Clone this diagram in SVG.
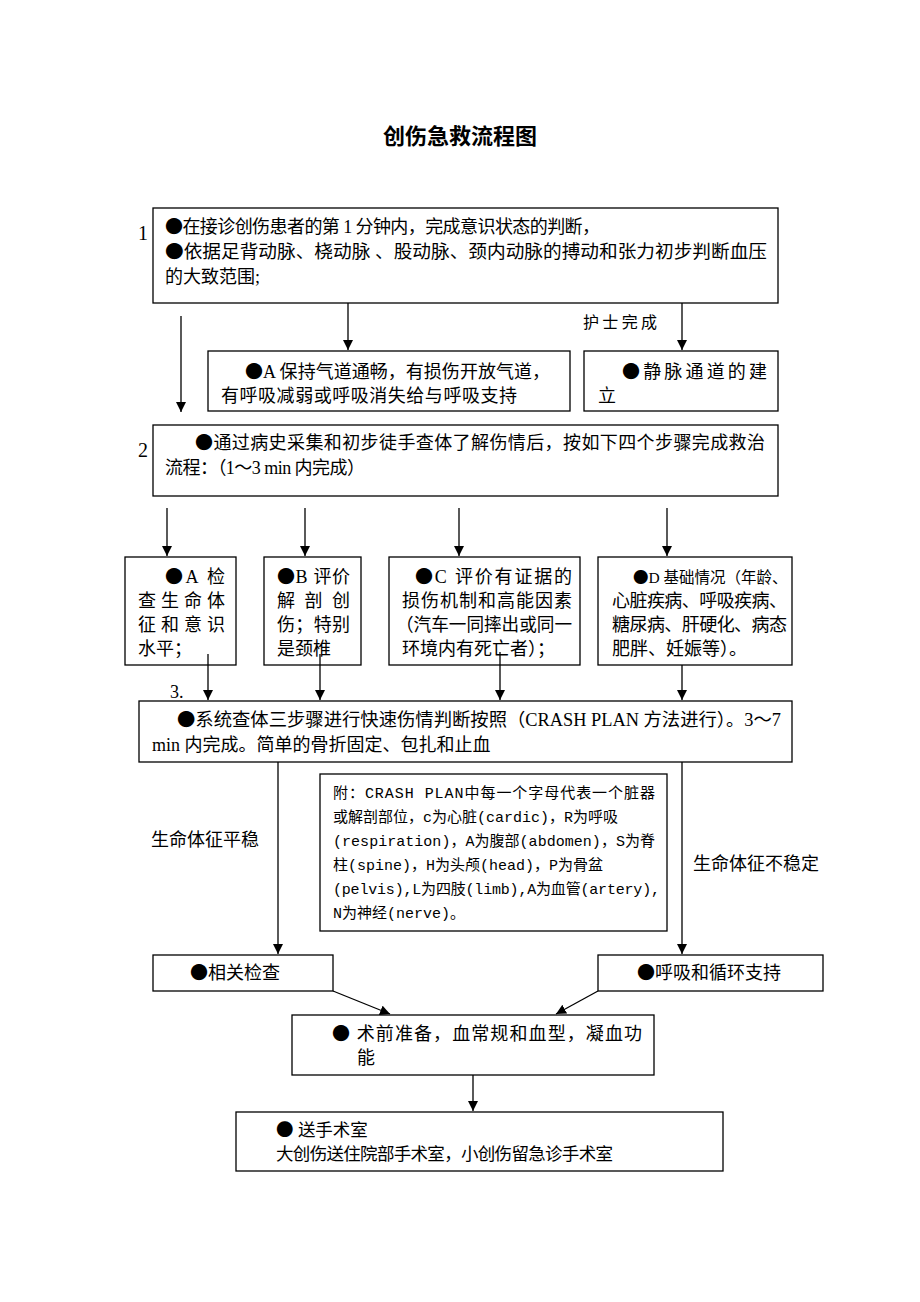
<svg xmlns="http://www.w3.org/2000/svg" width="920" height="1302" viewBox="0 0 920 1302">
<defs>
<marker id="ah" markerUnits="userSpaceOnUse" markerWidth="10" markerHeight="12" refX="10" refY="5" orient="auto">
<path d="M0,0 L10,5 L0,10 Z" fill="#000"/>
</marker>
<style>
.box{fill:#fff;stroke:#000;stroke-width:1.3}
.t{font-family:"Liberation Serif","Noto Sans CJK SC",serif;font-size:18px;fill:#000}
.m{font-family:"Liberation Mono","Noto Sans CJK SC",monospace;font-size:15px;fill:#000}
.n{font-family:"Liberation Serif","Noto Sans CJK SC",serif;font-size:20px;fill:#000}
.b{font-family:"Noto Sans CJK SC",sans-serif}
.c line{stroke:#000;stroke-width:1.3}
.a{marker-end:url(#ah)}
</style>
</defs>
<rect width="920" height="1302" fill="#fff"/>
<text x="460" y="144" text-anchor="middle" style="font-family:'Noto Sans CJK SC',sans-serif;font-size:22px;font-weight:bold">创伤急救流程图</text>

<g id="n1">
<rect class="box" x="153" y="208" width="625" height="95"/>
<text class="n" x="138" y="240">1</text>
<text class="t" x="165" y="233" textLength="435"><tspan class="b">●</tspan>在接诊创伤患者的第 1 分钟内，完成意识状态的判断，</text>
<text class="t" x="165" y="258" textLength="602" lengthAdjust="spacingAndGlyphs"><tspan class="b">●</tspan>依据足背动脉、桡动脉 、股动脉、颈内动脉的搏动和张力初步判断血压</text>
<text class="t" x="165" y="283">的大致范围;</text>
</g>
<text class="t" x="583" y="328" textLength="74" style="font-size:16px">护士完成</text>

<g id="nA1">
<rect class="box" x="208" y="351" width="362" height="60"/>
<text class="t" x="245" y="378" textLength="305"><tspan class="b">●</tspan>A 保持气道通畅，有损伤开放气道，</text>
<text class="t" x="221" y="402" textLength="296">有呼吸减弱或呼吸消失给与呼吸支持</text>
</g>
<g id="nIV">
<rect class="box" x="584" y="351" width="194" height="60"/>
<text class="t" x="622" y="378" textLength="145"><tspan class="b">●</tspan>静脉通道的建</text>
<text class="t" x="598" y="402">立</text>
</g>

<g id="n2">
<rect class="box" x="153" y="425" width="625" height="71"/>
<text class="n" x="138" y="457">2</text>
<text class="t" x="195" y="449" textLength="570"><tspan class="b">●</tspan>通过病史采集和初步徒手查体了解伤情后，按如下四个步骤完成救治</text>
<text class="t" x="165" y="474" textLength="200">流程：（1～3 min 内完成）</text>
</g>

<g id="nA">
<rect class="box" x="125" y="557" width="111" height="108"/>
<text class="t" x="165" y="583" textLength="60"><tspan class="b">●</tspan>A 检</text>
<text class="t" x="138" y="607" textLength="87">查生命体</text>
<text class="t" x="138" y="631" textLength="87">征和意识</text>
<text class="t" x="138" y="655">水平；</text>
</g>
<g id="nB">
<rect class="box" x="264" y="557" width="97" height="108"/>
<text class="t" x="277" y="583" textLength="73"><tspan class="b">●</tspan>B 评价</text>
<text class="t" x="277" y="607" textLength="73">解 剖 创</text>
<text class="t" x="277" y="631" textLength="73">伤；特别</text>
<text class="t" x="277" y="655">是颈椎</text>
</g>
<g id="nC">
<rect class="box" x="389" y="557" width="191" height="108"/>
<text class="t" x="415" y="583" textLength="157"><tspan class="b">●</tspan>C 评价有证据的</text>
<text class="t" x="402" y="607" textLength="170">损伤机制和高能因素</text>
<text class="t" x="396" y="631" textLength="176" lengthAdjust="spacingAndGlyphs">（汽车一同摔出或同一</text>
<text class="t" x="402" y="655">环境内有死亡者）；</text>
</g>
<g id="nD">
<rect class="box" x="598" y="557" width="194" height="108"/>
<text class="t" x="633" y="583" style="font-size:15.5px"><tspan class="b">●</tspan>D 基础情况（年龄、</text>
<text class="t" x="612" y="607" textLength="175">心脏疾病、呼吸疾病、</text>
<text class="t" x="612" y="631" textLength="175">糖尿病、肝硬化、病态</text>
<text class="t" x="612" y="655">肥胖、妊娠等）。</text>
</g>

<text class="n" x="170" y="698" style="font-size:18px">3.</text>
<g id="n3">
<rect class="box" x="139" y="701" width="653" height="61"/>
<text class="t" x="177" y="726" textLength="604" lengthAdjust="spacingAndGlyphs"><tspan class="b">●</tspan>系统查体三步骤进行快速伤情判断按照（CRASH PLAN 方法进行）。3～7</text>
<text class="t" x="152" y="751">min 内完成。简单的骨折固定、包扎和止血</text>
</g>

<g id="nNote">
<rect class="box" x="320" y="774" width="347" height="157"/>
<text class="m" x="333" y="798" textLength="322">附：CRASH PLAN中每一个字母代表一个脏器</text>
<text class="m" x="333" y="822">或解剖部位，c为心脏(cardic)，R为呼吸</text>
<text class="m" x="333" y="846" textLength="322">(respiration)，A为腹部(abdomen)，S为脊</text>
<text class="m" x="333" y="870">柱(spine)，H为头颅(head)，P为骨盆</text>
<text class="m" x="333" y="894" textLength="327">(pelvis),L为四肢(limb),A为血管(artery),</text>
<text class="m" x="333" y="918">N为神经(nerve)。</text>
</g>

<text class="t" x="151" y="846">生命体征平稳</text>
<text class="t" x="693" y="870">生命体征不稳定</text>

<g id="nCheck">
<rect class="box" x="153" y="955" width="180" height="36"/>
<text class="t" x="190" y="979"><tspan class="b">●</tspan>相关检查</text>
</g>
<g id="nSupport">
<rect class="box" x="598" y="955" width="225" height="36"/>
<text class="t" x="637" y="979"><tspan class="b">●</tspan>呼吸和循环支持</text>
</g>

<g id="nPre">
<rect class="box" x="292" y="1015" width="362" height="60"/>
<text class="t" x="332" y="1040" textLength="310"><tspan class="b">●</tspan>  术前准备，血常规和血型，凝血功</text>
<text class="t" x="357" y="1064">能</text>
</g>

<g id="nOR">
<rect class="box" x="236" y="1112" width="487" height="59"/>
<text class="t" x="276" y="1136" style="font-size:17.5px"><tspan class="b">●</tspan>  送手术室</text>
<text class="t" x="276" y="1160" textLength="337" style="font-size:17.5px">大创伤送住院部手术室，小创伤留急诊手术室</text>
</g>

<g id="connectors" class="c">
<line class="a" x1="348" y1="303" x2="348" y2="350"/>
<line class="a" x1="682" y1="303" x2="682" y2="350"/>
<line class="a" x1="181" y1="316" x2="181" y2="412"/>
<line class="a" x1="167" y1="508" x2="167" y2="556"/>
<line class="a" x1="305" y1="508" x2="305" y2="556"/>
<line class="a" x1="459" y1="508" x2="459" y2="556"/>
<line class="a" x1="667" y1="508" x2="667" y2="556"/>
<line class="a" x1="208" y1="654" x2="208" y2="700"/>
<line class="a" x1="320" y1="654" x2="320" y2="700"/>
<line class="a" x1="500" y1="652" x2="500" y2="700"/>
<line class="a" x1="682" y1="665" x2="682" y2="700"/>
<line class="a" x1="278" y1="762" x2="278" y2="954"/>
<line class="a" x1="682" y1="762" x2="682" y2="954"/>
<line class="a" x1="333" y1="991" x2="390" y2="1014"/>
<line class="a" x1="598" y1="991" x2="556" y2="1014"/>
<line class="a" x1="473" y1="1075" x2="473" y2="1111"/>
</g>
</svg>
